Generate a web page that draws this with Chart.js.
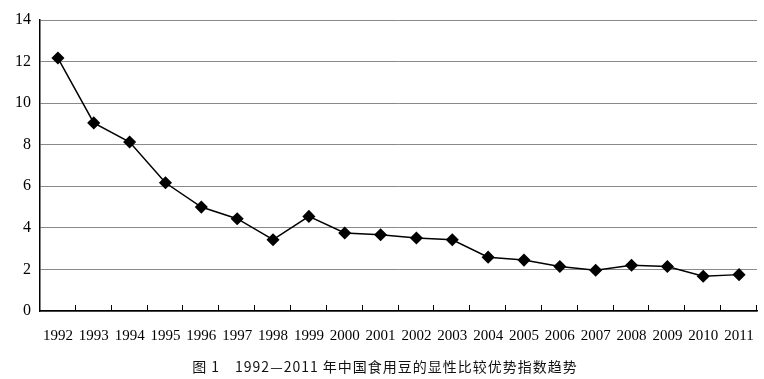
<!DOCTYPE html>
<html><head><meta charset="utf-8">
<script src="https://cdn.jsdelivr.net/npm/chart.js@4"></script>
<style>
html,body{margin:0;padding:0;background:#fff;}
#wrap{position:relative;width:764px;height:379px;}
#cap{position:absolute;left:0;width:770px;top:356px;text-align:center;font:14px "Noto Sans CJK SC",sans-serif;letter-spacing:1px;color:#111;white-space:pre;}
</style></head>
<body><div id="wrap"><canvas id="c" width="764" height="379"></canvas>
<div id="cap">图 1　1992—2011 年中国食用豆的显性比较优势指数趋势</div></div>
<script>
const years = ['1992','1993','1994','1995','1996','1997','1998','1999','2000','2001','2002','2003','2004','2005','2006','2007','2008','2009','2010','2011'];
const rcaValues = [12.17,9.05,8.13,6.17,5.0,4.44,3.43,4.55,3.75,3.67,3.51,3.43,2.59,2.45,2.14,1.96,2.2,2.14,1.67,1.75];
const yTicks = [0,2,4,6,8,10,12,14];

const innerTicks = {
  id:'innerTicks',
  afterDraw(chart){
    const x = chart.scales.x, ctx = chart.ctx;
    const n = years.length, w = (x.right - x.left)/n;
    ctx.save();ctx.strokeStyle='#000';ctx.lineWidth=1;
    for(let i=1;i<=n;i++){
      const px = Math.round(x.left + i*w)-0.5;
      ctx.beginPath();ctx.moveTo(px,x.top);ctx.lineTo(px,x.top-6);ctx.stroke();
    }
    ctx.restore();
  }
};

new Chart(document.getElementById('c'),{
  type:'line',
  data:{labels:years,datasets:[{data:rcaValues,borderColor:'#000',borderWidth:1.5,
    pointStyle:'rectRot',pointRadius:5.5,pointBackgroundColor:'#000',pointBorderColor:'#000',tension:0}]},
  options:{
    responsive:false,animation:false,
    layout:{padding:{left:0,right:4,top:20,bottom:38}},
    plugins:{legend:{display:false},tooltip:{enabled:false}},
    scales:{
      x:{offset:true,
        grid:{display:false,drawOnChartArea:false},
        border:{display:true,color:'#000',width:1.5},
        ticks:{color:'#000',font:{family:'"Liberation Serif"',size:15},maxRotation:0,autoSkip:false,padding:8},
        afterFit(s){s.height=30;}
      },
      y:{min:0,max:14,
        afterBuildTicks(s){s.ticks=yTicks.map(v=>({value:v}));},
        grid:{color:'#8a8a8a',lineWidth:1,drawTicks:false},
        border:{display:true,color:'#000',width:1.5},
        ticks:{color:'#000',font:{family:'"Liberation Serif"',size:16},padding:9},
        afterFit(s){s.width=40;}
      }
    }
  },
  plugins:[innerTicks]
});
</script></body></html>
